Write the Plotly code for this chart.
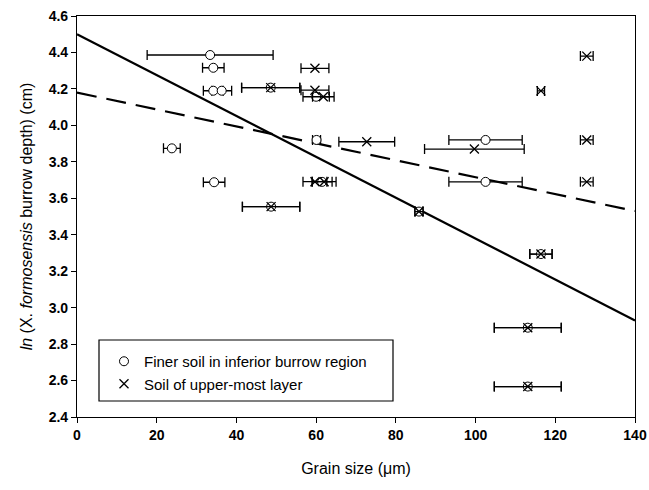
import plotly.graph_objects as go

# Finer soil in inferior burrow region (circles)
fine_x = [33.4, 34.2, 34.2, 36.3, 48.6, 23.8, 60.0, 60.1, 61.5, 34.4, 48.7, 102.5, 102.5, 85.8, 116.4, 113.1, 113.1]
fine_y = [4.386, 4.316, 4.19, 4.19, 4.207, 3.874, 4.157, 3.92, 3.69, 3.688, 3.554, 3.92, 3.69, 3.527, 3.294, 2.89, 2.567]
fine_err = [15.8, 2.7, 2.5, 2.5, 7.3, 2.1, 3.3, 1.0, 2.5, 2.7, 7.2, 9.2, 9.2, 1.0, 2.8, 8.4, 8.4]

# Soil of upper-most layer (crosses)
upper_x = [48.6, 59.7, 59.7, 61.8, 72.7, 59.7, 62.0, 48.7, 127.9, 116.4, 99.7, 127.9, 127.9, 85.8, 116.4, 113.1, 113.1]
upper_y = [4.207, 4.313, 4.193, 4.157, 3.91, 3.691, 3.691, 3.554, 4.38, 4.189, 3.87, 3.92, 3.69, 3.527, 3.294, 2.89, 2.567]
upper_err = [7.3, 3.5, 3.5, 2.7, 7.0, 3.0, 3.0, 7.2, 1.6, 0.9, 12.5, 1.6, 1.6, 1.0, 2.8, 8.4, 8.4]

# Regression lines
fit_x = [0, 140]
solid_y = [4.50, 2.93]
dashed_y = [4.18, 3.53]

x_ticks = [0, 20, 40, 60, 80, 100, 120, 140]
y_ticks = [2.4, 2.6, 2.8, 3.0, 3.2, 3.4, 3.6, 3.8, 4.0, 4.2, 4.4, 4.6]

FONT = "Liberation Sans, Arial, sans-serif"

fig = go.Figure()

fig.add_trace(go.Scatter(
    x=fit_x, y=solid_y, mode="lines", showlegend=False,
    line=dict(color="black", width=2.2), hoverinfo="skip"))
fig.add_trace(go.Scatter(
    x=fit_x, y=dashed_y, mode="lines", showlegend=False,
    line=dict(color="black", width=2.2, dash="20px,10px"), hoverinfo="skip"))

fig.add_trace(go.Scatter(
    x=fine_x, y=fine_y, mode="markers", name="Finer soil in inferior burrow region",
    marker=dict(symbol="circle", size=9, color="white", line=dict(color="black", width=1)),
    error_x=dict(type="data", array=fine_err, color="black", thickness=1.3, width=5)))
fig.add_trace(go.Scatter(
    x=upper_x, y=upper_y, mode="markers", name="Soil of upper-most layer",
    marker=dict(symbol="x-thin-open", size=9, color="black", line=dict(color="black", width=1.3)),
    error_x=dict(type="data", array=upper_err, color="black", thickness=1.3, width=5)))

# legend frame
fig.add_shape(type="rect", xref="paper", yref="paper",
              x0=(99 - 77) / 558, x1=(393 - 77) / 558,
              y0=(417 - 401) / 401, y1=(417 - 340) / 401,
              line=dict(color="black", width=1.2), fillcolor="rgba(0,0,0,0)")

fig.update_layout(
    width=649, height=490,
    margin=dict(l=77, r=14, t=16, b=73, autoexpand=False),
    paper_bgcolor="white", plot_bgcolor="white",
    font=dict(family=FONT, color="black", size=15),
    legend=dict(x=(104 - 77) / 558, y=(417 - 345) / 401, xanchor="left", yanchor="top",
                bgcolor="rgba(0,0,0,0)", borderwidth=0,
                font=dict(family=FONT, size=15, color="black"),
                tracegroupgap=0, itemwidth=30),
    showlegend=True,
)

fig.update_xaxes(
    range=[0, 140], tickvals=x_ticks, ticktext=[str(v) for v in x_ticks],
    showgrid=False, zeroline=False, showline=True, linecolor="black", linewidth=1.2,
    mirror=True, ticks="outside", ticklen=5, tickcolor="black", tickwidth=1.2,
    automargin=False,
    tickfont=dict(family=FONT, size=14, weight="bold"),
    title=dict(text="Grain size (μm)", font=dict(family=FONT, size=16), standoff=20))
fig.update_yaxes(
    range=[2.4, 4.6], tickvals=y_ticks, ticktext=["%.1f" % v for v in y_ticks],
    showgrid=False, zeroline=False, showline=True, linecolor="black", linewidth=1.2,
    mirror=True, ticks="outside", ticklen=5, tickcolor="black", tickwidth=1.2,
    automargin=False,
    tickfont=dict(family=FONT, size=14, weight="bold"),
    title=dict(text="<i>ln</i> (X. <i>formosensis</i> burrow depth) (cm)",
               font=dict(family=FONT, size=16), standoff=12))

fig.write_html("out.html", config={"displayModeBar": False},
               post_script="document.body.style.margin='0';document.body.style.padding='0';document.body.style.overflow='hidden';")
